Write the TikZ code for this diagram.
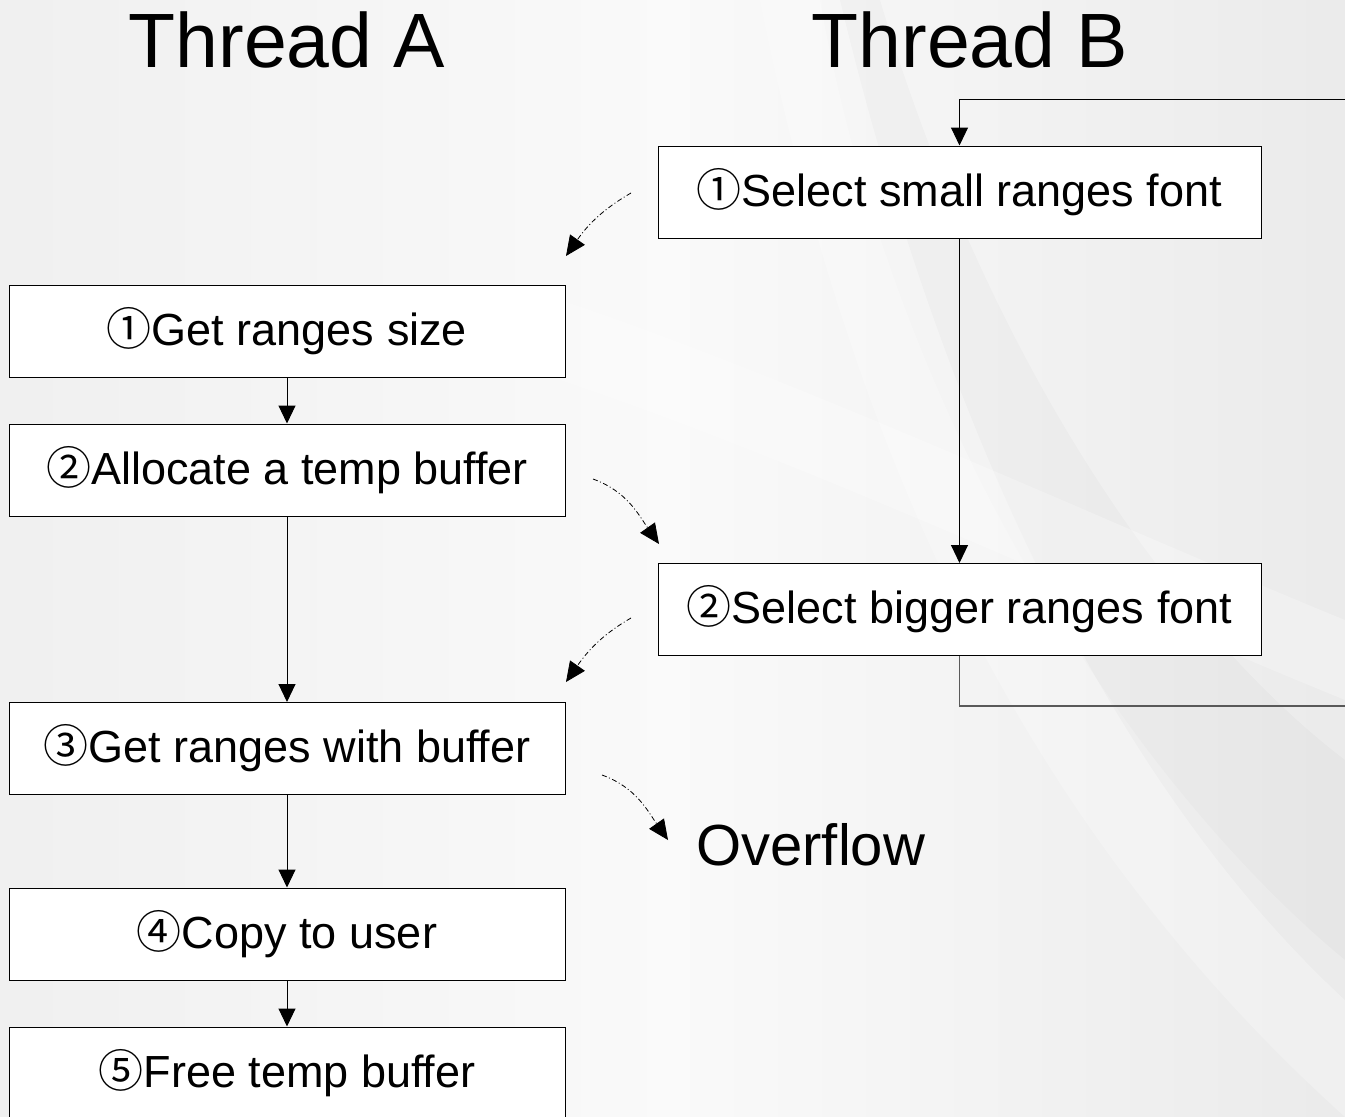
\documentclass[tikz,border=0pt]{standalone}
\usepackage{fontspec}
\setmainfont{Liberation Sans}
\newfontfamily\cjk{Noto Sans CJK SC}
\usetikzlibrary{arrows.meta}
\newcommand\cnum[1]{{\cjk #1}}
\begin{document}
\begin{tikzpicture}[x=1pt,y=-1pt,
  stepbox/.style={draw=black, line width=1pt, fill=white, minimum height=92pt,
    inner sep=0pt, font=\fontsize{45}{54}\selectfont},
  abox/.style={stepbox, minimum width=556pt},
  bbox/.style={stepbox, minimum width=603pt},
  title/.style={font=\fontsize{77}{90}\selectfont, inner sep=0pt},
  flow/.style={line width=1pt, -{Triangle[width=17pt,length=18pt]}},
  loopline/.style={line width=1.3pt, draw=black!65},
  hint/.style={line width=0.8pt, dash pattern=on 5pt off 2.5pt on 1pt off 2.5pt,
    -{Triangle[width=18pt,length=20pt]}}
]
% page and background
\useasboundingbox (0,0) rectangle (1345,1117);
\shade[left color=black!6, right color=black!8, middle color=black!2]
  (0,0) rectangle (1345,1117);
\fill[white, opacity=0.25] (820,0) .. controls (900,450) and (1150,800) .. (1345,960)
  -- (1345,1117) .. controls (1050,850) and (860,500) .. (760,0) -- cycle;
\fill[black, opacity=0.02] (880,0) .. controls (1000,400) and (1200,650) .. (1345,760)
  -- (1345,1000) .. controls (1150,820) and (960,500) .. (840,0) -- cycle;
\fill[white, opacity=0.25] (560,300) .. controls (800,380) and (1100,520) .. (1345,620)
  -- (1345,700) .. controls (1100,600) and (800,460) .. (560,380) -- cycle;

% titles
\node[title] (tA) at (287,40) {Thread A};
\node[title] (tB) at (970,40) {Thread B};

% thread A steps
\node[abox] (a1) at (287,331) {\cnum{①}Get ranges size};
\node[abox] (a2) at (287,470) {\cnum{②}Allocate a temp buffer};
\node[abox] (a3) at (287,748.5) {\cnum{③}Get ranges with buffer};
\node[abox] (a4) at (287,934) {\cnum{④}Copy to user};
\node[abox] (a5) at (287,1073) {\cnum{⑤}Free temp buffer};

% thread B steps
\node[bbox] (b1) at (959.5,192) {\cnum{①}Select small ranges font};
\node[bbox] (b2) at (959.5,609.5) {\cnum{②}Select bigger ranges font};

\node[font=\fontsize{58}{70}\selectfont, inner sep=0pt, anchor=west] (ovf) at (696,845) {Overflow};

% sequential flow
\draw[flow] (a1) -- (a2);
\draw[flow] (a2) -- (a3);
\draw[flow] (a3) -- (a4);
\draw[flow] (a4) -- (a5);
\draw[flow] (b1) -- (b2);

% thread B loop
\coordinate (loopBot) at (1345,706);
\coordinate (loopTop) at (1345,99);
\draw[loopline] (b2.south) |- (loopBot);
\draw[line width=1pt, -{Triangle[width=17pt,length=18pt]}] (loopTop) -| (b1.north);

% interleaving hints
\coordinate (h1s) at (631,193);
\coordinate (h1e) at (566,256);
\coordinate (h2s) at (593,479);
\coordinate (h2e) at (659,544);
\coordinate (h3s) at (631,618);
\coordinate (h3e) at (566,682);
\coordinate (h4s) at (602,775);
\coordinate (h4e) at (668,840);
\draw[hint] (h1s) to[out=210, in=55] (h1e);
\draw[hint] (h2s) to[out=-20, in=125] (h2e);
\draw[hint] (h3s) to[out=210, in=55] (h3e);
\draw[hint] (h4s) to[out=-20, in=125] (h4e);
\end{tikzpicture}
\end{document}
